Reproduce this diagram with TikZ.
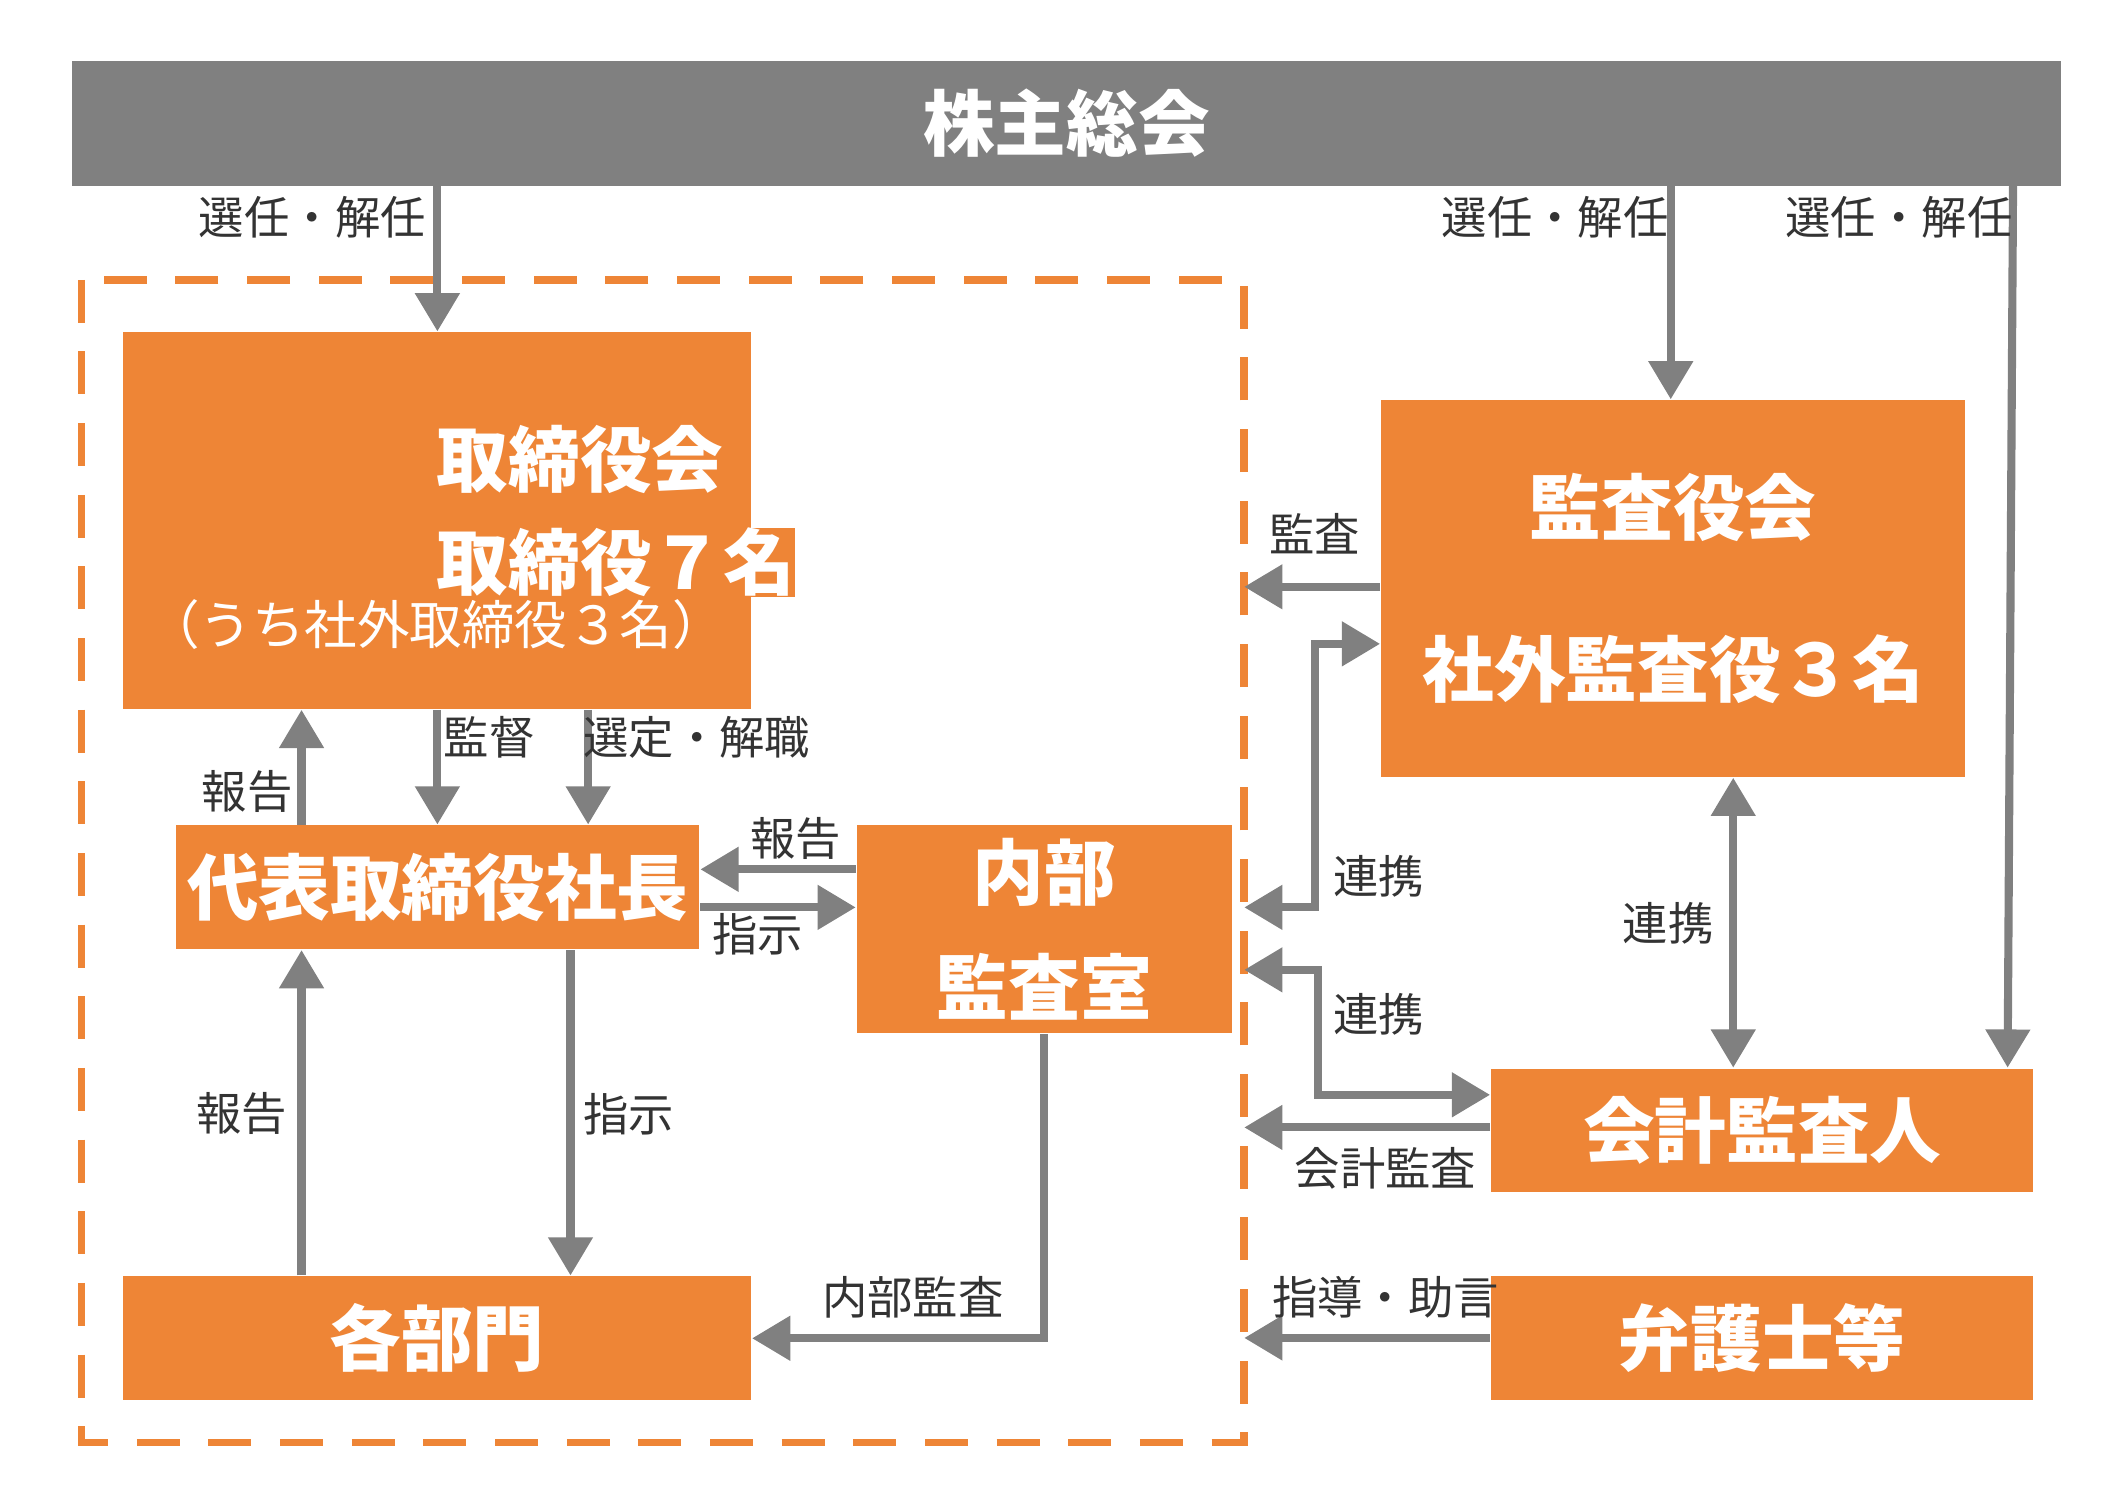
\documentclass[tikz,border=0pt]{standalone}
\usepackage{fontspec}
\setmainfont{Noto Sans CJK JP}
\usetikzlibrary{arrows.meta,calc}
\definecolor{boxorange}{HTML}{EE8536}
\definecolor{linegray}{HTML}{808080}
\definecolor{textgray}{HTML}{333333}
\tikzset{
  box/.style={fill=boxorange, text=white, font=\bfseries\fontsize{15}{18}\selectfont, align=center, inner sep=0pt, anchor=north west},
  arr/.style={draw=linegray, line width=1.7pt, -{Triangle[length=8pt,width=9pt]}},
  darr/.style={arr, {Triangle[length=8pt,width=9pt]}-{Triangle[length=8pt,width=9pt]}},
  lbl/.style={text=textgray, font=\fontsize{9.5}{11}\selectfont}
}
\begin{document}
\begin{tikzpicture}[x=0.01cm,y=-0.01cm]
\useasboundingbox (0,0) rectangle (1560,1100);

% header
\node[box, fill=linegray, minimum width=14.64cm, minimum height=0.92cm] (meeting) at (52,44) {株主総会};

% dashed frame
\draw[boxorange, line width=1.6pt, dash pattern=on 9pt off 6pt] (60,206) rectangle (916,1062);

% boxes
\node[box, minimum width=4.62cm, minimum height=2.77cm] (board) at (90,244) {};
\node[box] at (321,312) {取締役会};
\node[box] at (321,388) {取締役７名};
\node[text=white, font=\fontsize{11}{13}\selectfont] at (321,460) {（うち社外取締役３名）};
\node[box, minimum width=3.85cm, minimum height=0.91cm] (ceo) at (129,607) {代表取締役社長};
\node[box, minimum width=2.76cm, minimum height=1.53cm] (audit) at (630,607) {内部\\[6pt]監査室};
\node[box, minimum width=4.62cm, minimum height=0.91cm] (dept) at (90,939) {各部門};
\node[box, minimum width=4.30cm, minimum height=2.77cm] (kansa) at (1016,294) {監査役会\\[16pt]社外監査役３名};
\node[box, minimum width=3.99cm, minimum height=0.91cm] (acct) at (1097,786) {会計監査人};
\node[box, minimum width=3.99cm, minimum height=0.91cm] (lawyer) at (1097,939) {弁護士等};

% frame edge coordinates
\coordinate (f1) at (916,432);
\coordinate (f2) at (916,668);
\coordinate (f3) at (916,714);
\coordinate (f4) at (916,830);
\coordinate (f5) at (916,985);

% connectors
\draw[arr] (322,136) -- (322,244);
\node[lbl] at (230,160) {選任・解任};
\draw[arr] (1230,136) -- (1230,294);
\node[lbl] at (1145,160) {選任・解任};
\draw[arr] (1482,136) -- (1478,786);
\node[lbl] at (1398,160) {選任・解任};

\draw[arr] (ceo.north -| 222,0) -- (board.south -| 222,0);
\node[lbl] at (182,583) {報告};
\draw[arr] (board.south -| 322,0) -- (ceo.north -| 322,0);
\node[lbl] at (360,543) {監督};
\draw[arr] (board.south -| 433,0) -- (ceo.north -| 433,0);
\node[lbl] at (513,543) {選定・解職};

\draw[arr] (audit.west |- 0,640) -- (ceo.east |- 0,640);
\node[lbl] at (586,617) {報告};
\draw[arr] (ceo.east |- 0,668) -- (audit.west |- 0,668);
\node[lbl] at (558,688) {指示};

\draw[arr] (dept.north -| 222,0) -- (ceo.south -| 222,0);
\node[lbl] at (178,820) {報告};
\draw[arr] (ceo.south -| 420,0) -- (dept.north -| 420,0);
\node[lbl] at (463,820) {指示};

\draw[arr] (audit.south) |- (dept.east);
\node[lbl] at (672,955) {内部監査};

\draw[arr] (kansa.west |- f1) -- (f1);
\node[lbl] at (968,393) {監査};
\draw[darr] (f2) -| (968,474) -- (kansa.west |- 0,474);
\node[lbl] at (1015,645) {連携};
\draw[darr] (f3) -| (970,806) -- (acct.west |- 0,806);
\node[lbl] at (1015,747) {連携};
\draw[arr] (acct.west |- f4) -- (f4);
\node[lbl] at (1020,860) {会計監査};
\draw[darr] (kansa.south -| 1276,0) -- (acct.north -| 1276,0);
\node[lbl] at (1228,680) {連携};
\draw[arr] (lawyer.west |- f5) -- (f5);
\node[lbl] at (1020,955) {指導・助言};
\end{tikzpicture}
\end{document}
